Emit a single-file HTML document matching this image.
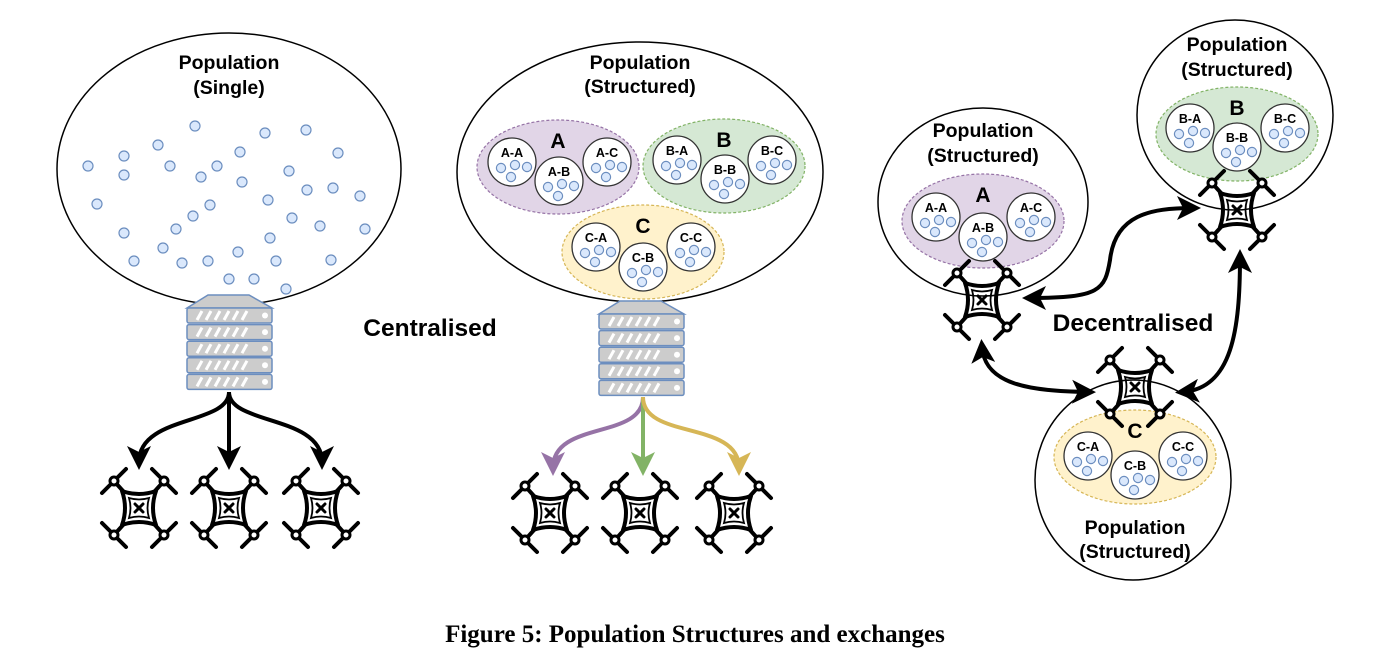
<!DOCTYPE html>
<html><head><meta charset="utf-8"><style>
html,body{margin:0;padding:0;background:#fff;}
svg{display:block;font-family:"Liberation Sans",sans-serif;}
</style></head><body>
<svg id="s" width="1398" height="666" viewBox="0 0 1398 666" xmlns="http://www.w3.org/2000/svg">
<defs>
<g id="drone">
  <g stroke="#000" stroke-width="4" stroke-linecap="round" fill="none">
    <line x1="-37" y1="-15" x2="-13" y2="-39"/><line x1="37" y1="-15" x2="13" y2="-39"/>
    <line x1="-37" y1="15" x2="-13" y2="39"/><line x1="37" y1="15" x2="13" y2="39"/>
    <line x1="-25" y1="-27" x2="-16" y2="-17"/><line x1="25" y1="-27" x2="16" y2="-17"/>
    <line x1="-25" y1="27" x2="-16" y2="17"/><line x1="25" y1="27" x2="16" y2="17"/>
    <path stroke-linejoin="round" d="M-17,-17 Q0,-11 17,-17 Q11,0 17,17 Q0,11 -17,17 Q-11,0 -17,-17Z"/>
    <path stroke-width="1.8" d="M-10,-10 Q0,-7 10,-10 Q7,0 10,10 Q0,7 -10,10 Q-7,0 -10,-10Z"/>
    <path stroke-width="3" d="M-4,-4 L4,4 M4,-4 L-4,4"/>
  </g>
  <g fill="#fff" stroke="#000" stroke-width="3">
    <circle cx="-25" cy="-27" r="4"/><circle cx="25" cy="-27" r="4"/>
    <circle cx="-25" cy="27" r="4"/><circle cx="25" cy="27" r="4"/>
  </g>
</g>
<marker id="ah" markerWidth="6" markerHeight="6" refX="4" refY="3" orient="auto-start-reverse" markerUnits="strokeWidth">
  <path d="M0,0 L6,3 L0,6 L1.5,3Z" fill="context-stroke"/>
</marker>
</defs>
</svg>
<script>
var s=document.getElementById('s'),h='';
function t(x,y,txt,sz,extra){h+='<text x="'+x+'" y="'+y+'" font-size="'+sz+'" font-weight="bold" text-anchor="middle" '+(extra||'')+'>'+txt+'</text>';}
function dot(x,y,r){h+='<circle cx="'+x+'" cy="'+y+'" r="'+(r||5)+'" fill="#dae8fc" stroke="#6c8ebf" stroke-width="1.2"/>';}
function sub(x,y,lab,r){r=r||24;h+='<circle cx="'+x+'" cy="'+y+'" r="'+r+'" fill="#fff" stroke="#333" stroke-width="1.3"/>';
 t(x,y-5,lab,12.5);dot(x-11,y+6,4.6);dot(x+3,y+3,4.6);dot(x+15,y+5,4.6);dot(x-1,y+15,4.6);}
var cols={A:['#e1d5e7','#9673a6'],B:['#d5e8d4','#82b366'],C:['#fff2cc','#d6b656']};
function grp(cx,cy,L,subs){var c=cols[L];
 h+='<ellipse cx="'+cx+'" cy="'+cy+'" rx="81" ry="47" fill="'+c[0]+'" stroke="'+c[1]+'" stroke-width="1.2" stroke-dasharray="3,2"/>';
 t(cx,cy-19,L,21);
 subs.forEach(function(p,i){sub(p[0],p[1],L+'-'+'ABC'[i]);});}
function drone(x,y){h+='<use href="#drone" x="'+x+'" y="'+y+'"/>';}
function server(x,top){h+='<path d="M'+(x+21)+','+top+' L'+(x+62)+','+top+' L'+(x+85)+','+(top+13)+' L'+x+','+(top+13)+'Z" fill="#ccc" stroke="#6c8ebf" stroke-width="1.5"/>';
 for(var i=0;i<5;i++){var y=top+13+i*16.6;
  h+='<rect x="'+x+'" y="'+y+'" width="85" height="15" rx="2" fill="#ccc" stroke="#6c8ebf" stroke-width="1.5"/>';
  for(var k=0;k<6;k++){var sx=x+8+k*9;h+='<path d="M'+(sx+2)+','+(y+12)+' L'+(sx+7)+','+(y+3)+'" stroke="#fff" stroke-width="3"/>';}
  h+='<circle cx="'+(x+78)+'" cy="'+(y+7.5)+'" r="3" fill="#fff"/>';}}
function arr(d,col,w,both){h+='<path d="'+d+'" fill="none" stroke="'+col+'" stroke-width="'+(w||4)+'" marker-end="url(#ah)"'+(both?' marker-start="url(#ah)"':'')+'/>';}

h+='<ellipse cx="229" cy="169" rx="172" ry="136" fill="#fff" stroke="#000" stroke-width="1.5"/>';
t(229,69,'Population',19.5);t(229,94,'(Single)',19.5);
[[195,126],[265,133],[306,130],[158,145],[124,156],[240,152],[338,153],[88,166],[170,166],[217,166],[124,175],[289,171],[201,177],[242,182],[307,190],[333,188],[360,196],[97,204],[210,205],[268,200],[193,216],[292,218],[320,226],[365,229],[124,233],[176,229],[270,238],[163,248],[238,252],[134,261],[182,263],[208,261],[331,260],[276,261],[229,279],[254,279],[286,289]].forEach(function(p){dot(p[0],p[1]);});
server(187,295);
arr('M229,392 C229,425 139,415 139,462','#000',4);
arr('M229,392 L229,462','#000',4);
arr('M229,392 C229,425 322,415 322,462','#000',4);
drone(139,508);drone(229,508);drone(321,508);
t(430,336,'Centralised',24.5);

h+='<ellipse cx="640" cy="172" rx="183" ry="130" fill="#fff" stroke="#000" stroke-width="1.5"/>';
t(640,69,'Population',19.5);t(640,93,'(Structured)',19.5);
grp(558,167,'A',[[512,162],[559,181],[607,162]]);
grp(724,166,'B',[[677,160],[725,179],[772,160]]);
grp(643,252,'C',[[596,247],[643,267],[691,247]]);
server(599,301);
arr('M643,397 C643,440 553,420 553,468','#9673a6',4);
arr('M643,397 L643,468','#82b366',4);
arr('M643,397 C643,440 739,420 739,468','#d6b656',4);
drone(550,513);drone(640,513);drone(734,513);

h+='<ellipse cx="983" cy="202" rx="105" ry="94" fill="#fff" stroke="#000" stroke-width="1.5"/>';
t(983,137,'Population',19.5);t(983,162,'(Structured)',19.5);
grp(983,221,'A',[[936,217],[983,237],[1031,217]]);
h+='<ellipse cx="1235" cy="115" rx="98" ry="95" fill="#fff" stroke="#000" stroke-width="1.5"/>';
t(1237,51,'Population',19.5);t(1237,76,'(Structured)',19.5);
grp(1237,134,'B',[[1190,128],[1237,147],[1285,128]]);
h+='<ellipse cx="1133" cy="480" rx="98" ry="100" fill="#fff" stroke="#000" stroke-width="1.5"/>';
grp(1135,457,'C',[[1088,456],[1135,475],[1183,456]]);
t(1135,534,'Population',19.5);t(1135,558,'(Structured)',19.5);
drone(982,300);drone(1237,210);drone(1135,387);
arr('M1030,298 C1100,298 1105,290 1110,260 C1115,215 1150,208 1193,208','#000',4,true);
arr('M982,347 C985,385 1030,391 1088,392','#000',4,true);
arr('M1240,257 C1240,330 1232,388 1183,392','#000',4,true);
t(1133,331,'Decentralised',24.5);

h+='<text x="695" y="642" font-family="Liberation Serif,serif" font-size="25" font-weight="bold" text-anchor="middle">Figure 5: Population Structures and exchanges</text>';
s.insertAdjacentHTML('beforeend',h);
</script>
</body></html>
